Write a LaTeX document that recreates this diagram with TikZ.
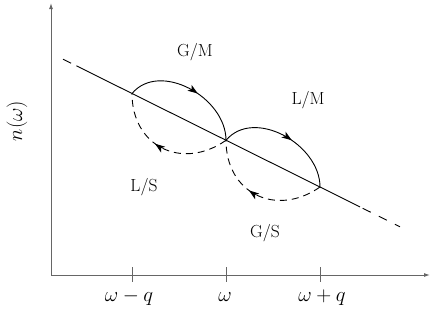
\documentclass[tikz,border=0pt]{standalone}
\usetikzlibrary{arrows.meta,decorations.markings}
\begin{document}
\begin{tikzpicture}[x=1pt,y=1pt,
  axis/.style={draw=black!60, line width=1pt},
  curve/.style={line width=0.9pt},
  dashline/.style={line width=0.9pt, dash pattern=on 7pt off 5pt},
  midarrow/.style={postaction={decorate, decoration={markings,
      mark=at position #1 with {\arrow[solid]{Stealth[length=10pt,width=7pt,inset=2.5pt]}}}}},
  lab/.style={font=\fontsize{17.5}{20}\selectfont, anchor=base, inner sep=0pt},
  ticklab/.style={font=\fontsize{20}{22}\selectfont, anchor=base, inner sep=0pt}]
\useasboundingbox (0,0) rectangle (436,309);
% axes
\coordinate (O) at (51,34);
\coordinate (ytop) at (51,306);
\coordinate (xright) at (430,34);
\draw[axis, -{Latex[length=6pt,width=4pt]}] (O) -- (ytop);
\draw[axis, -{Latex[length=6pt,width=4pt]}] (O) -- (xright);
% points on the line
\coordinate (A) at (132,215.5);
\coordinate (B) at (226,168.7);
\coordinate (C) at (320,122);
\coordinate (L0) at (63,249.8);
\coordinate (L1) at (80,241.4);
\coordinate (R1) at (360,102.1);
\coordinate (R0) at (400,82.2);
\draw[line width=0.9pt, dash pattern=on 9pt off 6pt] (L0) -- (L1);
\draw[line width=0.9pt] (L1) -- (R1);
\draw[line width=0.9pt, dash pattern=on 0pt off 3pt on 9pt off 6pt] (R1) -- (R0);
% ticks
\foreach \n/\x in {tA/132,tB/226,tC/320}{
  \coordinate (\n top) at (\x,42);
  \coordinate (\n bot) at (\x,27);
  \draw[axis] (\n top) -- (\n bot);
}
\node[ticklab] (lA) at (129,8) {$\omega-q$};
\node[ticklab] (lB) at (225,8) {$\omega$};
\node[ticklab] (lC) at (322,8) {$\omega+q$};
\node[font=\fontsize{20.5}{22}\selectfont, rotate=90, inner sep=0pt] (ylab) at (17,188) {$n(\omega)$};
% arcs
\draw[curve, midarrow=0.56] (A) to[out=50,in=90,looseness=1.05] (B);
\draw[dashline, midarrow=0.57] (B) to[out=215,in=-90,looseness=1.3] (A);
\draw[curve, midarrow=0.56] (B) to[out=50,in=90,looseness=1.05] (C);
\draw[dashline, midarrow=0.57] (C) to[out=215,in=-90,looseness=1.3] (B);
% labels
\node[lab] (GM) at (195,253) {G/M};
\node[lab] (LM) at (308,205) {L/M};
\node[lab] (LS) at (144,118) {L/S};
\node[lab] (GS) at (265,72) {G/S};
\end{tikzpicture}
\end{document}
